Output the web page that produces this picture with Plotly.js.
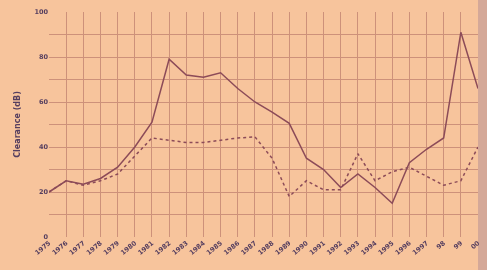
<!DOCTYPE html>
<html>
<head>
<meta charset="utf-8">
<script src="https://cdn.plot.ly/plotly-3.0.1.min.js"></script>
<style>
  html, body { margin: 0; padding: 0; background: #f7c49c; }
  #chart { width: 487px; height: 270px; filter: blur(0.5px); }
</style>
</head>
<body>
<div id="chart"></div>
<script>
// Category labels along the x axis (illegible in the reference; approximated)
var categories = ["1975","1976","1977","1978","1979","1980","1981","1982","1983","1984",
                  "1985","1986","1987","1988","1989","1990","1991","1992","1993","1994",
                  "1995","1996","1997","98","99","00"];
// Solid series
var seriesSolid = [20, 25, 23.5, 26, 31, 40, 51, 79, 72, 71, 73, 66, 60, 55.5, 50.5,
                   35, 30, 22, 28, 22, 15, 33, 39, 44, 91, 66];
// Dashed series
var seriesDashed = [20, 25, 23, 25, 28, 36, 44, 43, 42, 42, 43, 44, 44.5, 35, 18,
                    25, 21, 21, 37, 25, 29, 31, 27, 23, 25, 40];
var yTicks = [0, 20, 40, 60, 80, 100];

var lineColor = "rgb(140,75,88)";
var textColor = "rgb(85,62,95)";
var gridColor = "rgb(205,145,122)";
var traces = [
  { x: categories, y: seriesSolid, type: "scatter", mode: "lines",
    line: { color: lineColor, width: 1.5 }, showlegend: false },
  { x: categories, y: seriesDashed, type: "scatter", mode: "lines",
    line: { color: lineColor, width: 1.5, dash: "3px,3px" }, showlegend: false }
];

var layout = {
  width: 487, height: 270,
  margin: { l: 49, r: 9, t: 12, b: 33 },
  paper_bgcolor: "#f7c49c",
  plot_bgcolor: "#f7c49c",
  font: { family: "DejaVu Sans", color: textColor },
  xaxis: {
    type: "category",
    range: [0, categories.length - 1],
    tickmode: "array", tickvals: categories, ticktext: categories,
    tickangle: -40,
    tickfont: { size: 6.5, color: textColor, weight: "bold" },
    showgrid: true, gridcolor: gridColor, gridwidth: 1,
    zeroline: false, showline: false, ticks: ""
  },
  yaxis: {
    range: [0, 100],
    tickmode: "array", tickvals: yTicks,
    tickfont: { size: 6.5, color: textColor, weight: "bold" },
    showgrid: true, gridcolor: gridColor, gridwidth: 1,
    minor: { dtick: 10, showgrid: true, gridcolor: gridColor, gridwidth: 1 },
    zeroline: false, showline: false, ticks: "",
    title: { text: "Clearance (dB)", font: { size: 8, color: textColor, weight: "bold" }, standoff: 12 }
  },
  shapes: [
    { type: "rect", xref: "paper", yref: "paper", x0: 1.0, x1: 1.03, y0: -0.2, y1: 1.06,
      fillcolor: "rgb(212,168,152)", line: { width: 0 }, layer: "below" }
  ]
};

Plotly.newPlot("chart", traces, layout, { displayModeBar: false, staticPlot: true });
</script>
</body>
</html>
